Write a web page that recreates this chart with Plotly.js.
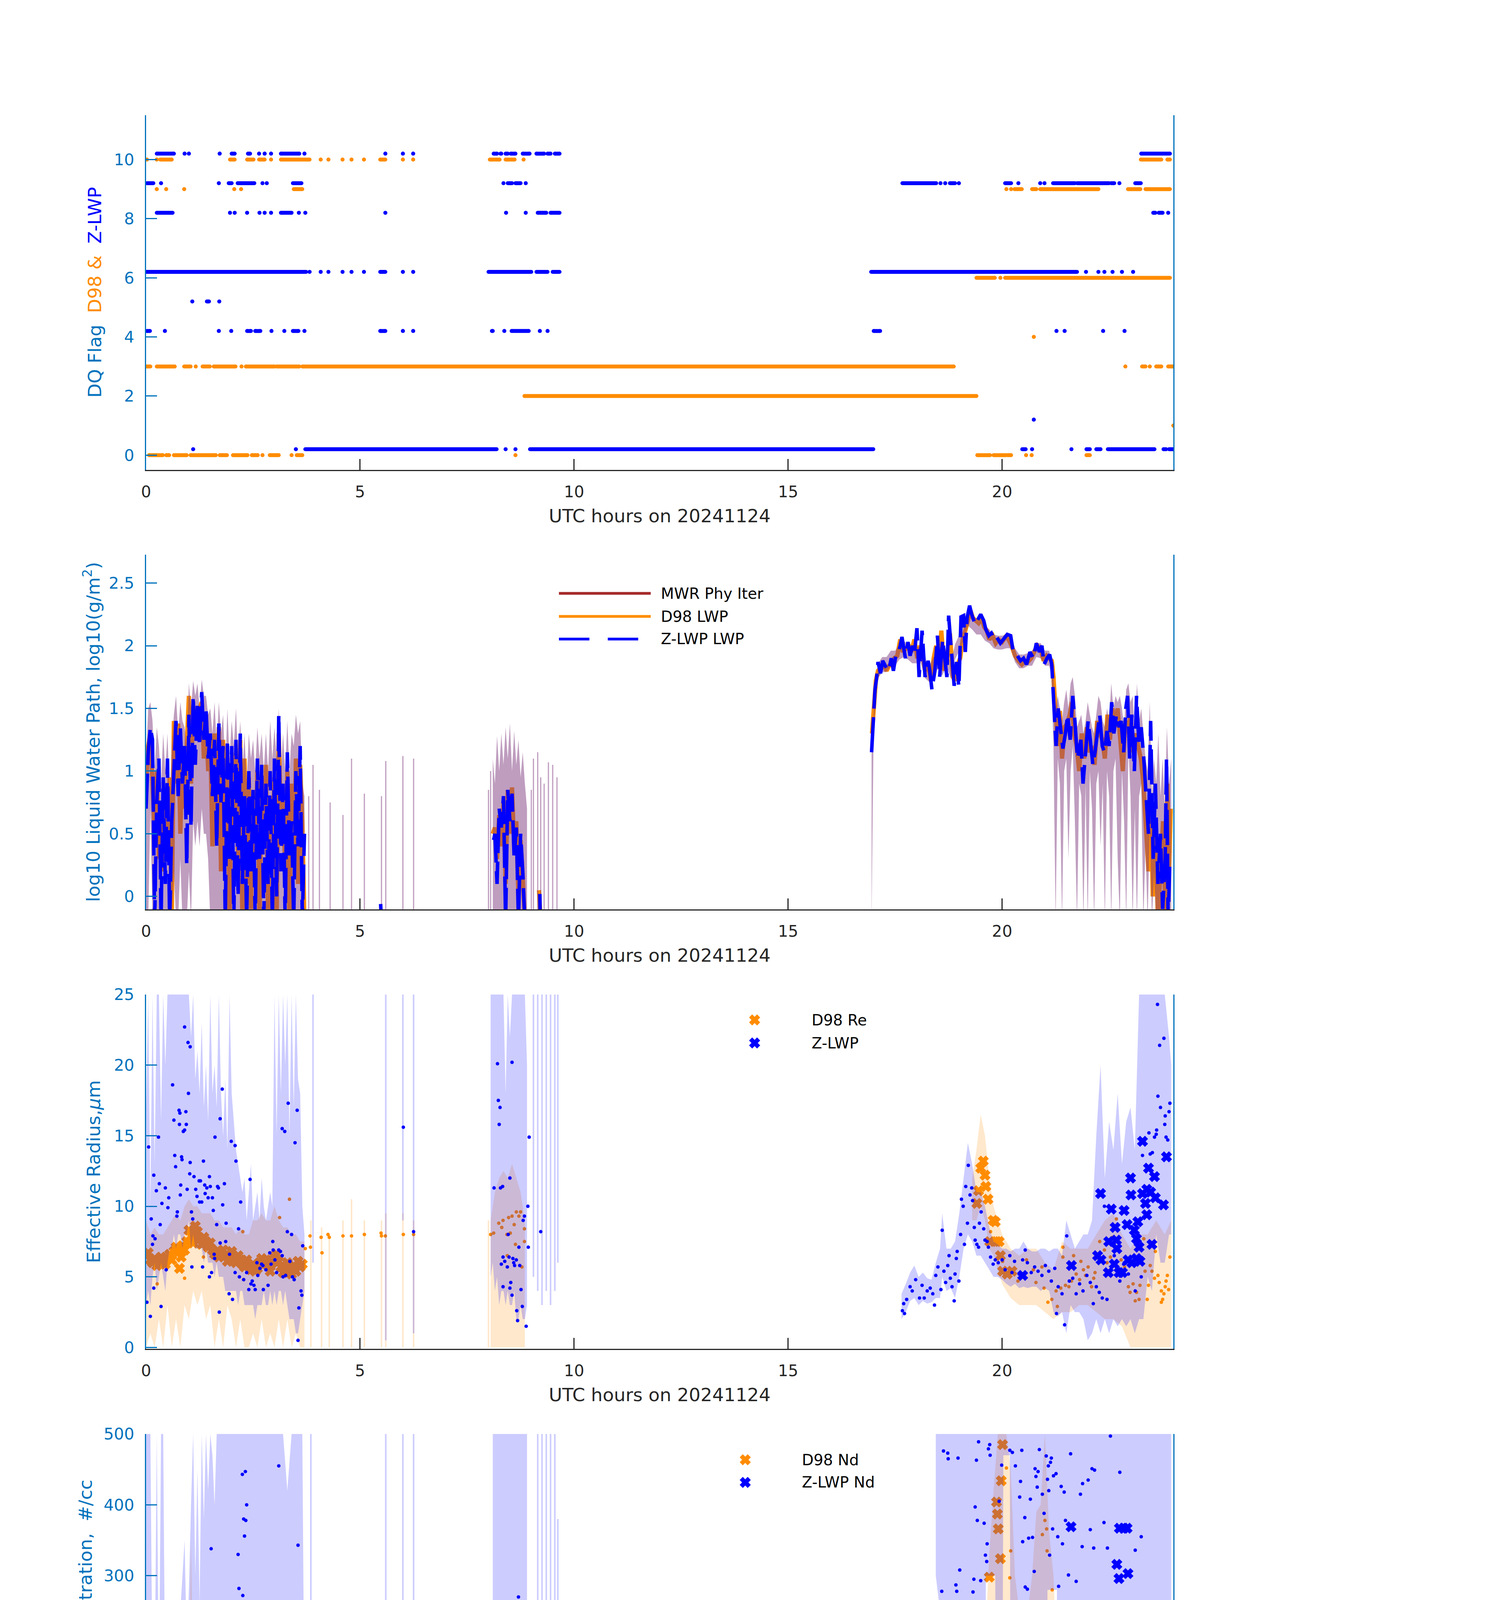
<!DOCTYPE html>
<html>
<head>
<meta charset="utf-8">
<script src="https://cdn.plot.ly/plotly-3.0.1.min.js"></script>
<style>body{margin:0;background:#fff}</style>
</head>
<body>
<div id="chart" style="width:3825px;height:6000px"></div>
<script>
// ---- panel 1: data quality flags, runs as [flag, startHour, endHour]
const zFlagRuns = [
  [10,0.25,0.65],[10,0.9,0.9],[10,1.0,1.0],[10,1.72,1.72],[10,2.0,2.07],[10,2.38,2.43],[10,2.64,2.64],[10,2.77,2.77],[10,2.92,2.92],[10,3.15,3.58],[10,3.7,3.7],[10,5.59,5.59],[10,6.0,6.0],[10,6.24,6.24],[10,8.12,8.2],[10,8.28,8.3],[10,8.4,8.45],[10,8.52,8.63],[10,8.8,8.96],[10,9.12,9.3],[10,9.38,9.45],[10,9.55,9.66],[10,23.25,23.92],
  [9,0.02,0.17],[9,0.35,0.35],[9,1.7,1.7],[9,1.93,2.0],[9,2.14,2.53],[9,2.72,2.72],[9,2.82,2.82],[9,3.43,3.63],[9,8.35,8.35],[9,8.45,8.55],[9,8.63,8.75],[9,8.87,8.87],[9,17.67,18.46],[9,18.56,18.56],[9,18.67,18.67],[9,18.78,18.9],[9,18.99,18.99],[9,20.07,20.21],[9,20.38,20.38],[9,20.89,20.89],[9,20.99,20.99],[9,21.19,21.7],[9,21.75,22.5],[9,22.55,22.62],[9,22.74,22.74],[9,23.11,23.24],
  [8,0.25,0.62],[8,1.96,1.96],[8,2.07,2.07],[8,2.36,2.36],[8,2.65,2.65],[8,2.77,2.77],[8,2.92,2.92],[8,3.15,3.4],[8,3.57,3.57],[8,3.72,3.72],[8,5.59,5.59],[8,8.41,8.41],[8,8.87,8.87],[8,9.15,9.35],[8,9.45,9.66],[8,23.53,23.58],[8,23.66,23.75],[8,23.88,23.88],
  [6,0,3.74],[6,3.82,3.82],[6,4.08,4.08],[6,4.26,4.26],[6,4.59,4.59],[6,4.8,4.8],[6,5.09,5.09],[6,5.47,5.59],[6,6.0,6.0],[6,6.24,6.24],[6,8.0,9.0],[6,9.12,9.38],[6,9.5,9.66],[6,16.94,21.75],[6,21.96,21.96],[6,22.25,22.25],[6,22.39,22.39],[6,22.58,22.58],[6,22.8,22.8],[6,23.06,23.06],
  [5,1.08,1.08],[5,1.42,1.47],[5,1.71,1.71],
  [4,0.02,0.09],[4,0.44,0.44],[4,1.7,1.7],[4,1.99,1.99],[4,2.36,2.45],[4,2.55,2.67],[4,2.93,2.93],[4,3.23,3.23],[4,3.43,3.56],[4,3.7,3.7],[4,5.47,5.59],[4,6.0,6.0],[4,6.24,6.24],[4,8.08,8.1],[4,8.37,8.37],[4,8.54,8.94],[4,9.2,9.2],[4,9.38,9.38],[4,17.0,17.15],[4,21.27,21.27],[4,21.46,21.46],[4,22.36,22.36],[4,22.86,22.86],
  [1,20.74,20.74],
  [0,1.1,1.1],[0,3.5,3.5],[0,3.72,8.19],[0,8.4,8.4],[0,8.63,8.63],[0,8.97,16.99],[0,20.47,20.55],[0,20.7,20.7],[0,21.62,21.62],[0,21.97,22.05],[0,22.2,22.3],[0,22.47,23.56],[0,23.77,23.83],[0,23.9,24.0]
];
const d98FlagRuns = [
  [10,0.02,0.02],[10,0.25,0.25],[10,0.33,0.6],[10,1.96,2.07],[10,2.36,2.51],[10,2.64,2.77],[10,2.92,2.92],[10,3.15,3.82],[10,4.08,4.08],[10,4.26,4.26],[10,4.59,4.59],[10,4.8,4.8],[10,5.09,5.09],[10,5.47,5.59],[10,6.0,6.0],[10,6.24,6.24],[10,8.03,8.26],[10,8.4,8.61],[10,8.82,8.82],[10,23.24,23.72],[10,23.86,23.92],
  [9,0.25,0.25],[9,0.47,0.47],[9,0.89,0.89],[9,2.06,2.06],[9,2.22,2.22],[9,3.45,3.65],[9,20.1,20.1],[9,20.21,20.21],[9,20.29,20.46],[9,20.7,20.8],[9,20.89,22.25],[9,22.94,23.23],[9,23.35,23.92],
  [6,19.4,19.83],[6,19.96,19.96],[6,20.07,23.92],
  [4,20.74,20.74],
  [3,0,0.1],[3,0.25,0.67],[3,0.89,1.04],[3,1.16,1.16],[3,1.32,1.49],[3,1.58,2.09],[3,2.23,2.23],[3,2.33,3.0],[3,3.05,3.58],[3,3.65,18.87],[3,22.88,22.88],[3,23.27,23.35],[3,23.45,23.45],[3,23.6,23.72],[3,23.88,24.0],
  [2,8.84,19.4],
  [1,24.0,24.0],
  [0,0.07,0.39],[0,0.47,0.54],[0,0.65,0.95],[0,1.04,1.63],[0,1.72,1.89],[0,2.03,2.37],[0,2.47,2.61],[0,2.72,2.72],[0,2.89,3.1],[0,3.4,3.4],[0,3.52,3.65],[0,8.63,8.63],[0,19.42,19.72],[0,19.8,20.09],[0,20.13,20.21],[0,20.56,20.56],[0,20.69,20.69],[0,21.97,22.05]
];
const zFlagOffset = 0.2;

// ---- panel 2: log10 LWP, [hour, value], null = gap
const lwpZ = [
  [0.0,0.7],[0.05,1.15],[0.1,1.35],[0.15,1.25],[0.2,-0.2],[0.25,0.75],[0.3,1.1],[0.35,-0.2],[0.4,0.95],[0.45,0.1],[0.5,1.1],[0.55,-0.2],[0.6,0.6],[0.65,1.05],[0.7,1.4],[0.75,0.8],[0.8,1.35],[0.85,0.9],[0.9,1.2],[0.95,0.25],[1.0,1.45],[1.05,0.55],[1.1,1.6],[1.15,1.05],[1.2,1.55],[1.25,1.2],[1.3,1.63],[1.35,1.25],[1.4,1.5],[1.45,1.1],[1.5,1.3],[1.55,0.8],[1.6,1.25],[1.65,0.4],[1.7,1.38],[1.75,0.75],[1.8,1.2],[1.85,-0.2],[1.9,1.25],[1.95,0.3],[2.0,1.2],[2.05,-0.2],[2.1,1.25],[2.15,0.0],[2.2,1.3],[2.25,0.1],[2.3,0.8],[2.35,-0.2],[2.4,1.0],[2.45,0.2],[2.5,0.85],[2.55,-0.2],[2.6,1.1],[2.65,0.3],[2.7,1.05],[2.75,-0.2],[2.8,0.9],[2.85,0.1],[2.9,1.0],[2.95,-0.2],[3.0,1.1],[3.05,0.0],[3.1,1.45],[3.15,0.2],[3.2,0.9],[3.25,-0.2],[3.3,1.15],[3.35,0.3],[3.4,0.6],[3.45,-0.2],[3.5,1.0],[3.55,0.4],[3.6,1.2],[3.65,-0.2],[3.7,0.5],
  null,[5.48,-0.06],[5.5,-0.2],
  null,[8.12,0.45],[8.15,0.5],[8.2,0.1],[8.25,0.7],[8.3,0.55],[8.35,0.8],[8.4,-0.2],[8.45,0.85],[8.5,0.6],[8.55,0.82],[8.6,0.3],[8.65,0.55],[8.7,-0.2],[8.75,0.5],[8.8,0.2],[8.85,-0.2],[8.9,-0.2],
  null,[9.2,0.02],[9.21,-0.2],
  null,[16.95,1.15],[16.99,1.45],[17.03,1.65],[17.07,1.75],[17.1,1.87],[17.16,1.78],[17.21,1.88],[17.3,1.82],[17.35,1.8],[17.41,1.9],[17.46,1.8],[17.52,1.93],[17.6,1.97],[17.66,2.07],[17.74,1.9],[17.8,2.03],[17.85,1.92],[17.91,2.0],[17.95,1.93],[18.01,2.14],[18.06,1.75],[18.13,2.12],[18.2,1.75],[18.27,1.88],[18.31,1.8],[18.36,1.65],[18.43,1.8],[18.49,2.08],[18.54,1.75],[18.61,2.05],[18.67,1.85],[18.71,1.75],[18.75,2.24],[18.82,1.91],[18.88,1.68],[18.93,1.87],[18.99,1.67],[19.04,2.23],[19.1,2.24],[19.14,1.95],[19.18,2.22],[19.24,2.32],[19.29,2.25],[19.37,2.17],[19.43,2.21],[19.5,2.25],[19.57,2.2],[19.62,2.13],[19.69,2.08],[19.75,2.1],[19.82,2.05],[19.87,2.07],[19.96,2.02],[20.04,2.06],[20.12,2.09],[20.2,2.08],[20.26,1.95],[20.34,1.93],[20.43,1.88],[20.5,1.9],[20.57,1.85],[20.65,1.95],[20.73,1.9],[20.8,2.02],[20.87,1.95],[20.93,2.0],[20.98,1.85],[21.05,1.9],[21.11,1.93],[21.16,1.85],[21.2,1.6],[21.26,1.2],[21.31,1.5],[21.37,1.3],[21.42,1.18],[21.48,1.3],[21.53,1.45],[21.59,1.25],[21.65,1.6],[21.7,1.4],[21.76,1.1],[21.84,1.25],[21.89,0.9],[21.95,1.15],[22.01,1.4],[22.06,1.25],[22.12,1.05],[22.17,1.15],[22.23,1.3],[22.28,1.45],[22.34,1.2],[22.39,1.15],[22.45,1.32],[22.5,1.2],[22.56,1.55],[22.61,1.3],[22.67,1.45],[22.73,1.35],[22.78,1.4],[22.84,1.15],[22.89,1.5],[22.93,1.6],[22.98,1.1],[23.03,1.45],[23.09,1.0],[23.14,1.6],[23.2,1.2],[23.25,1.35],[23.31,1.1],[23.36,0.8],[23.42,0.5],[23.47,1.4],[23.53,0.3],[23.58,0.9],[23.64,0.1],[23.7,0.5],[23.75,-0.1],[23.81,0.3],[23.84,1.1],[23.88,-0.2],[23.92,0.3]
];
const lwpD98 = [
  [0.0,0.9],[0.05,1.2],[0.1,1.3],[0.15,0.95],[0.2,0.5],[0.25,1.0],[0.3,0.3],[0.35,0.6],[0.4,0.2],[0.45,0.8],[0.5,0.4],[0.55,0.95],[0.6,-0.2],[0.65,1.4],[0.7,0.9],[0.75,1.38],[0.8,0.5],[0.85,1.1],[0.9,0.7],[0.95,1.2],[1.0,1.6],[1.05,0.9],[1.1,1.52],[1.15,1.3],[1.2,1.3],[1.25,1.5],[1.3,1.55],[1.35,1.1],[1.4,1.45],[1.45,1.0],[1.5,1.25],[1.55,0.4],[1.6,1.3],[1.65,0.7],[1.7,1.35],[1.75,0.2],[1.8,1.25],[1.85,0.4],[1.9,1.1],[1.95,-0.2],[2.0,1.05],[2.05,0.5],[2.1,1.15],[2.15,0.3],[2.2,1.25],[2.25,-0.2],[2.3,1.1],[2.35,0.1],[2.4,0.95],[2.45,-0.1],[2.5,0.75],[2.55,0.3],[2.6,1.0],[2.65,-0.2],[2.7,0.9],[2.75,0.4],[2.8,1.05],[2.85,-0.2],[2.9,0.8],[2.95,0.5],[3.0,0.95],[3.05,-0.2],[3.1,1.3],[3.15,0.6],[3.2,0.85],[3.25,0.2],[3.3,1.0],[3.35,-0.2],[3.4,0.9],[3.45,0.3],[3.5,1.1],[3.55,0.1],[3.6,1.05],[3.65,0.6],[3.7,-0.2],
  null,[8.1,0.5],[8.15,0.55],[8.2,0.3],[8.25,0.65],[8.3,0.4],[8.35,0.75],[8.4,0.1],[8.45,0.85],[8.5,0.5],[8.55,0.87],[8.6,0.4],[8.65,0.6],[8.7,0.0],[8.75,0.45],[8.8,0.15],[8.85,-0.2],
  null,[9.18,0.05],[9.22,-0.2],
  null,[16.96,1.3],[17.0,1.45],[17.05,1.72],[17.1,1.8],[17.16,1.82],[17.22,1.85],[17.3,1.8],[17.36,1.84],[17.42,1.85],[17.48,1.9],[17.55,1.92],[17.62,2.05],[17.68,1.95],[17.75,1.98],[17.82,2.0],[17.88,1.95],[17.95,2.05],[18.02,1.9],[18.08,2.0],[18.14,1.95],[18.2,1.8],[18.27,1.85],[18.34,1.72],[18.4,1.9],[18.46,2.0],[18.52,1.85],[18.58,2.12],[18.65,1.8],[18.71,1.9],[18.78,2.1],[18.85,1.75],[18.9,1.72],[18.96,1.85],[19.02,1.9],[19.08,2.05],[19.14,2.12],[19.2,2.22],[19.26,2.28],[19.32,2.22],[19.38,2.2],[19.45,2.18],[19.52,2.22],[19.58,2.15],[19.64,2.12],[19.7,2.05],[19.78,2.08],[19.85,2.02],[19.92,2.05],[20.0,2.03],[20.08,2.07],[20.15,2.05],[20.22,2.0],[20.3,1.92],[20.38,1.88],[20.46,1.85],[20.54,1.88],[20.6,1.87],[20.68,1.9],[20.75,1.95],[20.82,2.0],[20.9,1.97],[20.97,1.88],[21.04,1.92],[21.1,1.9],[21.16,1.88],[21.2,1.75],[21.25,1.5],[21.3,1.2],[21.35,1.48],[21.4,1.1],[21.46,1.35],[21.52,1.38],[21.58,1.45],[21.63,1.55],[21.68,1.3],[21.74,1.2],[21.8,1.0],[21.86,1.3],[21.92,1.1],[21.98,1.35],[22.04,1.15],[22.1,1.2],[22.16,1.05],[22.22,1.4],[22.28,1.3],[22.34,1.25],[22.4,1.1],[22.46,1.45],[22.52,1.25],[22.58,1.5],[22.64,1.35],[22.7,1.5],[22.76,1.25],[22.82,1.0],[22.88,1.4],[22.94,1.3],[23.0,1.45],[23.06,1.15],[23.12,1.3],[23.18,1.2],[23.24,1.1],[23.3,0.9],[23.36,0.6],[23.42,0.2],[23.48,0.7],[23.52,0.0],[23.58,0.6],[23.64,-0.2],[23.7,0.2],[23.76,0.6],[23.82,-0.2],[23.86,0.9],[23.9,0.2],[23.94,0.7]
];
// MWR uncertainty envelope [hour, low, high]
const lwpMwrBand = [
  [0.0,-0.2,1.1],[0.05,-0.2,1.5],[0.1,0.7,1.55],[0.15,-0.2,1.4],[0.2,-0.2,1.0],[0.25,-0.2,1.35],[0.3,-0.2,1.2],[0.35,-0.2,0.9],[0.4,-0.2,1.3],[0.45,-0.2,1.0],[0.5,-0.2,1.3],[0.55,-0.2,0.8],[0.6,-0.2,1.2],[0.65,0.2,1.45],[0.7,-0.2,1.6],[0.75,-0.2,1.3],[0.8,0.3,1.55],[0.85,-0.2,1.4],[0.9,-0.2,1.35],[0.95,-0.2,1.2],[1.0,0.2,1.7],[1.05,-0.2,1.5],[1.1,0.6,1.72],[1.15,0.4,1.6],[1.2,0.6,1.7],[1.25,0.4,1.5],[1.3,0.7,1.73],[1.35,0.5,1.6],[1.4,0.5,1.6],[1.45,0.3,1.45],[1.5,-0.2,1.5],[1.55,-0.2,1.3],[1.6,-0.2,1.55],[1.65,-0.2,1.2],[1.7,-0.2,1.55],[1.75,-0.2,1.3],[1.8,-0.2,1.45],[1.85,-0.2,1.0],[1.9,-0.2,1.5],[1.95,-0.2,1.1],[2.0,-0.2,1.4],[2.05,-0.2,1.2],[2.1,-0.2,1.5],[2.15,-0.2,1.1],[2.2,-0.2,1.4],[2.25,-0.2,1.0],[2.3,-0.2,1.3],[2.35,-0.2,0.9],[2.4,-0.2,1.3],[2.45,-0.2,1.1],[2.5,-0.2,1.25],[2.55,-0.2,1.0],[2.6,-0.2,1.35],[2.65,-0.2,1.1],[2.7,-0.2,1.3],[2.75,-0.2,1.0],[2.8,-0.2,1.3],[2.85,-0.2,1.0],[2.9,-0.2,1.4],[2.95,-0.2,1.1],[3.0,-0.2,1.35],[3.05,-0.2,1.1],[3.1,-0.2,1.5],[3.15,-0.2,1.0],[3.2,-0.2,1.3],[3.25,-0.2,1.0],[3.3,-0.2,1.4],[3.35,-0.2,1.0],[3.4,-0.2,1.3],[3.45,-0.2,1.2],[3.5,-0.2,1.45],[3.55,-0.2,1.3],[3.6,-0.2,1.4],[3.65,-0.2,0.9],[3.7,-0.2,0.8],
  null,[8.1,-0.2,1.1],[8.15,-0.2,0.9],[8.2,-0.2,1.28],[8.25,-0.2,1.0],[8.3,-0.2,1.3],[8.35,-0.2,1.05],[8.4,-0.2,1.35],[8.45,-0.2,1.1],[8.5,-0.2,1.38],[8.55,-0.2,1.0],[8.6,-0.2,1.32],[8.65,-0.2,1.05],[8.7,-0.2,1.25],[8.75,-0.2,0.95],[8.8,-0.2,1.15],[8.85,-0.2,0.9],[8.9,-0.2,0.7],
  null,[16.95,-0.2,1.2],[17.0,1.38,1.47],[17.1,1.74,1.86],[17.2,1.79,1.91],[17.3,1.79,1.91],[17.4,1.84,1.96],[17.5,1.84,1.96],[17.6,1.89,2.01],[17.7,1.91,2.04],[17.8,1.89,2.01],[17.9,1.86,1.99],[18.0,1.86,1.99],[18.1,1.86,1.99],[18.2,1.74,1.86],[18.3,1.71,1.84],[18.4,1.79,1.91],[18.5,1.81,1.94],[18.6,1.76,1.89],[18.7,1.84,1.96],[18.8,1.74,1.86],[18.9,1.89,2.01],[19.0,1.96,2.09],[19.1,2.04,2.16],[19.2,2.16,2.27],[19.3,2.13,2.25],[19.4,2.09,2.21],[19.5,2.09,2.21],[19.6,2.04,2.16],[19.7,2.02,2.13],[19.8,1.98,2.09],[19.9,1.97,2.08],[20.0,1.97,2.08],[20.1,1.98,2.09],[20.2,1.98,2.09],[20.3,1.87,1.98],[20.4,1.82,1.93],[20.5,1.82,1.93],[20.6,1.84,1.94],[20.7,1.84,1.96],[20.8,1.91,2.02],[20.9,1.9,2.02],[21.0,1.84,1.96],[21.1,1.84,1.96],[21.15,1.77,1.88],
  [21.2,1.2,1.75],[21.25,-0.2,1.5],[21.3,1.1,1.6],[21.35,0.9,1.5],[21.4,-0.2,1.4],[21.45,1.0,1.55],[21.5,1.1,1.65],[21.55,0.3,1.5],[21.6,1.0,1.7],[21.65,1.2,1.75],[21.7,0.6,1.6],[21.75,-0.2,1.35],[21.8,0.9,1.4],[21.85,0.8,1.45],[21.9,-0.2,1.3],[21.95,0.9,1.4],[22.0,-0.2,1.55],[22.05,1.0,1.45],[22.1,0.7,1.35],[22.15,-0.2,1.3],[22.2,0.9,1.45],[22.25,1.0,1.6],[22.3,0.4,1.55],[22.35,0.9,1.4],[22.4,-0.2,1.35],[22.45,1.0,1.5],[22.5,0.8,1.4],[22.55,-0.2,1.7],[22.6,1.0,1.5],[22.65,1.1,1.6],[22.7,0.3,1.55],[22.75,-0.2,1.6],[22.8,1.0,1.5],[22.85,0.6,1.35],[22.9,-0.2,1.65],[22.95,1.2,1.7],[23.0,0.8,1.55],[23.05,-0.2,1.6],[23.1,0.7,1.3],[23.15,-0.2,1.7],[23.2,0.8,1.4],[23.25,0.9,1.5],[23.3,-0.2,1.3],[23.35,0.4,1.1],[23.4,-0.2,1.0],[23.45,0.6,1.55],[23.5,-0.2,0.8],[23.55,0.2,1.1],[23.6,-0.2,0.9],[23.65,-0.2,1.3],[23.7,-0.2,0.8],[23.75,-0.2,1.1],[23.8,-0.2,0.7],[23.85,-0.2,1.35],[23.9,-0.2,0.9],[23.95,-0.2,1.1]
];
const lwpMwrSpikes = [[3.8,-0.2,0.8],[3.9,-0.2,1.05],[4.05,-0.2,0.85],[4.3,-0.2,0.75],[4.6,-0.2,0.65],[4.8,-0.2,1.1],[5.1,-0.2,0.82],[5.5,-0.2,0.8],[5.6,-0.2,1.08],[6.0,-0.2,1.12],[6.25,-0.2,1.1],[8.0,-0.2,0.85],[8.05,-0.2,1.0],[9.0,-0.2,0.85],[9.05,-0.2,1.1],[9.15,-0.2,1.15],[9.22,-0.2,0.95],[9.3,-0.2,0.9],[9.4,-0.2,1.07],[9.5,-0.2,1.05],[9.6,-0.2,0.95]];

// ---- panel 3: effective radius (um)
const reZDots = [
  [0.06,14.2],[0.02,3.2],[0.1,2.2],[0.12,9.1],[0.15,7.3],[0.16,7.9],[0.18,12.2],[0.21,7.7],[0.18,4.2],[0.24,11.1],[0.29,14.9],[0.33,8.7],[0.31,11.6],[0.35,2.9],[0.37,10.2],[0.45,11.3],[0.47,5.5],[0.51,9.9],[0.53,10.6],[0.62,18.6],[0.65,16.1],[0.67,13.6],[0.69,12.8],[0.72,9.3],[0.73,9.6],[0.77,16.8],[0.78,15.8],[0.79,16.6],[0.8,10.8],[0.81,11.5],[0.83,13.5],[0.84,13.3],[0.87,15.3],[0.9,15.4],[0.9,22.7],[0.93,16.7],[0.94,15.8],[0.96,11.2],[0.98,21.6],[0.99,18.0],[1.03,21.3],[1.02,12.3],[1.03,13.1],[1.06,9.6],[1.07,5.7],[1.09,9.1],[1.12,12.1],[1.16,11.2],[1.19,10.7],[1.24,11.8],[1.27,11.8],[1.25,10.3],[1.3,10.3],[1.34,13.2],[1.37,11.5],[1.38,10.9],[1.42,11.3],[1.45,10.6],[1.48,12.1],[1.5,11.4],[1.55,10.6],[1.57,9.7],[1.61,14.9],[1.65,8.7],[1.67,11.4],[1.69,11.3],[1.73,16.2],[1.78,18.3],[1.79,10.1],[1.83,11.6],[1.87,8.8],[1.94,3.8],[1.99,14.6],[2.02,3.4],[2.08,14.3],[2.1,13.2],[2.16,8.4],[2.21,10.3],[2.43,11.9],[2.59,6.0],[2.74,4.1],[2.85,4.4],[2.96,7.5],[3.18,15.5],[3.24,15.3],[3.32,17.3],[3.4,8.0],[3.48,14.5],[3.53,16.8],[3.55,0.5],[3.57,2.8],[3.64,3.7],[3.66,7.2],[3.62,4.0],[3.26,5.1],[3.3,8.2],[3.18,6.5],[3.01,6.2],[2.89,6.7],[2.73,5.8],[2.61,5.1],[2.48,4.7],[2.4,4.1],[2.28,4.8],[2.18,5.0],[2.08,5.3],[1.95,6.6],[1.86,7.5],[1.73,7.4],[1.59,6.6],[1.71,2.5],[1.48,5.0],[1.53,5.3],[1.6,6.3],[1.32,5.7],[2.35,5.3],[2.45,4.5],[2.52,4.4],[2.55,4.1],[2.66,5.6],[2.7,5.9],[2.8,5.5],[2.92,5.9],[2.97,6.9],[3.05,5.3],[3.1,6.9],[3.14,6.8],[3.2,5.0],[3.36,6.1],[3.42,5.0],[3.46,4.8],
  [6.01,15.6],[6.25,8.2],
  [8.21,20.1],[8.55,20.2],[8.23,17.5],[8.27,17.0],[8.25,15.8],[8.13,11.3],[8.28,11.3],[8.33,11.4],[8.5,12.0],[8.46,8.0],[8.3,5.9],[8.34,6.4],[8.38,6.1],[8.34,4.3],[8.44,5.7],[8.48,6.4],[8.52,4.6],[8.5,4.2],[8.55,3.7],[8.57,6.3],[8.59,6.0],[8.61,5.8],[8.65,6.2],[8.66,2.6],[8.68,1.9],[8.71,7.1],[8.73,5.8],[8.76,4.1],[8.79,2.9],[8.81,9.0],[8.84,9.3],[8.88,1.5],[8.92,10.0],[8.93,7.1],[8.95,14.9],[9.22,8.2],
  [17.67,2.6],[17.72,2.4],[17.7,3.1],[17.77,3.4],[17.85,4.3],[17.9,4.0],[17.98,4.8],[18.07,3.5],[18.13,4.4],[18.18,3.5],[18.25,4.0],[18.32,4.2],[18.38,3.8],[18.42,3.0],[18.45,5.1],[18.5,5.7],[18.57,4.1],[18.6,8.3],[18.64,5.4],[18.68,4.6],[18.73,5.8],[18.76,6.5],[18.79,4.9],[18.83,4.3],[18.88,3.3],[18.9,5.2],[18.93,6.3],[18.95,6.8],[18.99,4.7],[19.03,8.0],[19.05,10.5],[19.09,10.0],[19.12,7.3],[19.15,11.4],[19.19,8.8],[19.21,12.9],[19.25,10.8],[19.29,11.3],[19.31,10.4],[19.35,8.5],[19.37,7.6],[19.41,7.3],[19.45,7.1],[19.47,8.8],[19.51,9.6],[19.57,8.4],[19.6,7.6],[19.65,7.5],[19.68,7.1],[19.73,6.4],[19.79,5.9],[19.84,6.2],[19.91,6.0],[20.0,6.2],[20.07,5.5],[20.18,6.5],[20.23,5.3],[20.29,6.1],[20.4,5.2],[20.48,6.2],[20.54,6.9],[20.59,6.0],[20.68,5.3],[20.76,5.7],[20.84,5.4],[20.93,5.1],[21.01,5.8],[21.09,5.4],[21.15,4.7],[21.23,5.6],[21.27,2.4],[21.31,4.3],[21.4,3.8],[21.46,1.6],[21.51,7.9],[21.57,4.7],[21.65,4.9],[21.73,3.8],[21.81,4.5],[21.89,4.0],[21.98,5.1],[22.06,4.6],[22.13,3.1],[22.2,4.3],[22.27,3.9],[22.34,3.5],[22.39,10.0],[22.45,3.4],[22.53,5.1],[22.62,6.5],[22.7,5.7],[22.75,4.7],[22.84,5.9],[22.95,5.2],[23.11,4.0],[23.25,5.0],[23.28,13.6],[23.43,15.2],[23.46,13.7],[23.51,13.8],[23.56,14.9],[23.6,15.1],[23.61,15.4],[23.64,17.8],[23.68,21.4],[23.7,17.0],[23.78,21.9],[23.8,15.8],[23.81,16.4],[23.83,14.9],[23.87,14.7],[23.9,16.7],[23.92,17.3],[23.63,24.3]
];
const reZCross = [[22.3,10.9],[22.55,9.8],[22.64,8.5],[22.85,9.7],[22.92,8.7],[23.0,12.0],[23.01,10.8],[23.17,8.9],[23.09,8.3],[23.14,7.7],[23.2,7.1],[23.28,14.6],[23.42,12.7],[23.56,12.1],[23.28,10.9],[23.38,11.2],[23.47,11.0],[23.58,10.6],[23.35,10.2],[23.38,9.4],[23.77,10.1],[23.84,13.5],[23.5,7.3],[22.49,7.5],[22.67,7.6],[22.68,7.0],[22.23,6.5],[22.31,6.2],[21.62,5.8],[22.48,5.3],[22.62,5.9],[22.73,5.3],[22.81,5.3],[22.94,6.2],[23.03,6.0],[23.14,6.3],[23.22,6.1],[20.48,5.1]];
const reD98Cross = [
  [0.05,6.7],[0.1,6.2],[0.15,6.0],[0.2,6.3],[0.25,5.8],[0.3,6.1],[0.35,6.4],[0.4,6.0],[0.45,5.9],[0.5,6.3],[0.55,6.6],[0.6,6.2],[0.65,6.8],[0.7,7.1],[0.75,6.9],[0.78,5.6],[0.82,6.4],[0.85,7.2],[0.9,6.9],[0.95,7.5],[1.0,8.3],[1.05,7.9],[1.1,7.4],[1.15,8.6],[1.2,8.2],[1.25,7.7],[1.3,7.3],[1.35,7.8],[1.4,7.5],[1.45,7.1],[1.5,7.4],[1.55,6.9],[1.6,6.6],[1.65,6.8],[1.7,6.4],[1.75,6.6],[1.8,6.9],[1.85,6.5],[1.9,6.1],[1.95,6.4],[2.0,6.8],[2.05,6.3],[2.1,6.0],[2.15,6.5],[2.2,6.2],[2.25,5.9],[2.3,5.7],[2.35,6.2],[2.4,5.8],[2.45,5.5],[2.5,5.9],[2.55,5.4],[2.6,5.6],[2.65,6.0],[2.7,6.3],[2.75,5.9],[2.8,6.2],[2.85,5.8],[2.9,5.4],[2.95,6.0],[3.0,6.3],[3.05,6.6],[3.1,6.1],[3.15,5.7],[3.2,5.3],[3.25,5.6],[3.3,6.0],[3.35,5.5],[3.4,5.2],[3.45,5.8],[3.5,5.4],[3.55,6.1],[3.6,5.7],[3.65,5.9],
  [19.56,13.2],[19.5,12.7],[19.6,12.2],[19.62,11.4],[19.45,11.1],[19.67,10.5],[19.41,10.2],[19.79,9.0],[19.84,8.9],[19.87,7.5],[19.71,7.5],[19.93,7.5],[19.96,6.5],[20.01,5.4],[20.12,5.2],[20.23,5.4]
];
const reD98Dots = [
  [0.26,4.5],[0.9,4.9],[1.34,6.4],[2.26,8.2],[3.12,9.2],[3.35,10.5],[2.28,4.8],
  [3.72,7.0],[3.83,7.9],[3.84,7.1],[4.09,7.8],[4.11,6.7],[4.25,8.0],[4.28,7.8],[4.6,7.9],[4.8,7.9],[5.1,8.0],[5.49,8.1],[5.5,7.9],[5.59,7.9],[6.01,8.0],[6.25,8.0],
  [8.05,8.0],[8.12,8.1],[8.24,8.8],[8.31,8.5],[8.34,9.0],[8.47,9.2],[8.55,9.3],[8.65,9.6],[8.75,9.6],[8.71,9.3],[8.6,8.7],[8.51,8.1],[8.43,8.0],[8.84,8.4],[8.78,5.7],[8.84,7.5],[8.63,7.3],[8.44,6.5],
  [19.73,8.2],[20.01,6.1],[20.37,4.7],[20.57,6.2],[20.73,5.5],[20.79,4.6],[20.93,5.7],[20.98,4.2],[21.07,3.2],[21.16,3.4],[21.26,4.0],[21.29,2.9],[21.37,4.2],[21.42,7.1],[21.42,6.4],[21.48,4.4],[21.56,4.3],[21.62,4.7],[21.67,6.5],[21.73,5.2],[21.81,4.8],[21.84,6.1],[21.9,5.5],[21.95,5.1],[22.01,5.7],[22.09,4.3],[22.14,4.9],[22.17,5.3],[22.28,7.5],[22.33,6.1],[22.39,6.9],[22.45,6.0],[22.53,6.4],[22.58,7.8],[22.67,9.1],[22.7,5.6],[22.78,6.2],[22.86,5.7],[22.95,4.3],[22.99,3.9],[23.06,4.5],[23.11,3.3],[23.14,3.9],[23.2,3.4],[23.22,4.4],[23.31,7.7],[23.34,5.4],[23.39,3.4],[23.42,4.4],[23.46,5.8],[23.5,5.4],[23.56,4.9],[23.58,6.8],[23.64,5.1],[23.67,4.6],[23.72,4.0],[23.75,3.4],[23.78,3.8],[23.81,4.3],[23.83,4.7],[23.86,5.1],[23.89,4.1],[23.92,6.4],[23.72,3.2]
];
const reZBand = [
  [0.0,3,17],[0.05,4,25],[0.1,3,10],[0.15,5,25],[0.2,6,13],[0.25,4,25],[0.3,5,25],[0.35,6,16],[0.4,5,25],[0.45,4,20],[0.5,6,25],[0.55,7,25],[0.6,7,25],[0.65,8,25],[0.7,7,25],[0.75,8,25],[0.8,8,25],[0.85,7,25],[0.9,8,25],[0.95,8,25],[1.0,9,25],[1.05,7,22],[1.1,8,25],[1.15,7,19],[1.2,7,21],[1.25,7,18],[1.3,7,23],[1.35,6,17],[1.4,7,20],[1.45,6,16],[1.5,6,25],[1.55,6,18],[1.6,5,20],[1.65,6,17],[1.7,5,25],[1.75,5,18],[1.8,5,15],[1.85,4,19],[1.9,4,14],[1.95,4,25],[2.0,4,18],[2.05,4,16],[2.1,4,14],[2.15,3,13],[2.2,4,12],[2.25,4,11],[2.3,3,12],[2.35,3,9],[2.4,3,11],[2.45,3,13],[2.5,3,9],[2.55,2,10],[2.6,3,11],[2.65,3,9],[2.7,3,12],[2.75,4,10],[2.8,3,9],[2.85,3,10],[2.9,4,11],[2.95,3,10],[3.0,4,25],[3.05,3,15],[3.1,4,25],[3.15,4,18],[3.2,3,25],[3.25,4,20],[3.3,3,25],[3.35,2,15],[3.4,2,25],[3.45,2,17],[3.5,1,25],[3.55,1,19],[3.6,2,18],[3.65,3,10],[3.7,4,8],
  null,[8.05,5,25],[8.1,6,25],[8.15,4,25],[8.2,5,25],[8.25,3,25],[8.3,4,25],[8.35,4,25],[8.4,3,18],[8.45,4,25],[8.5,3,22],[8.55,3,25],[8.6,4,25],[8.65,2,25],[8.7,2,25],[8.75,3,25],[8.8,2,25],[8.85,2,25],[8.9,3,20],
  null,[17.65,2,3.8],[17.75,2.5,4.5],[17.85,3.3,5.3],[17.95,3.5,5.8],[18.05,3,5],[18.15,3.3,5.3],[18.25,3.1,4.9],[18.35,3.2,4.8],[18.45,3.5,6],[18.55,3.5,7],[18.6,5,9.5],[18.7,4,7],[18.8,4.2,7],[18.9,3.5,7.5],[19.0,5,9.5],[19.1,7,12],[19.2,8,14.5],[19.3,7.5,13],[19.4,6.5,11],[19.5,6.5,11],[19.6,6,10],[19.7,5.5,8.5],[19.8,5,7.5],[19.9,5,7.3],[20.0,4.8,7],[20.1,4.5,7],[20.2,4.3,6.8],[20.3,4.5,7],[20.4,4.2,7],[20.5,4.3,7.5],[20.6,4.2,7],[20.7,4.3,6.8],[20.8,4.3,6.8],[20.9,4,7],[21.0,4.2,7],[21.1,4,6.8],[21.2,2.5,7],[21.3,2.2,7],[21.4,2.5,6.5],[21.5,1,9],[21.6,3,8],[21.7,2.5,7],[21.8,2.5,7.5],[21.9,2,8],[22.0,0.5,8],[22.1,1,9],[22.2,2,15],[22.3,1,20],[22.4,2,12],[22.5,1,16],[22.6,2,14],[22.7,1.5,18],[22.8,2,13],[22.9,1.5,16],[23.0,2,17],[23.1,1,14],[23.2,2,25],[23.3,2,25],[23.4,5,25],[23.5,4,25],[23.6,8,25],[23.7,6,25],[23.8,6,25],[23.9,8,22],[23.95,8,20]
];
const reZSpikes = [[3.9,6,25],[5.6,0.5,25],[6.0,9,25],[6.25,1,25],[9.05,5,25],[9.15,4,25],[9.25,3,25],[9.35,4,25],[9.45,3,25],[9.55,4,25],[9.62,6,25]];
const reD98Band = [
  [0.0,0,9],[0.1,1,8],[0.2,0,8.5],[0.3,2,8],[0.4,0,8],[0.5,3,8.5],[0.6,0,9],[0.7,2,9.5],[0.8,0,9],[0.9,3,10],[1.0,2,10.5],[1.1,4,10],[1.2,3,10],[1.3,4,9.5],[1.4,2,9.5],[1.5,3,9.5],[1.6,0,9],[1.7,2,9],[1.8,0,8.5],[1.9,3,8.5],[2.0,2,8.5],[2.1,0,8],[2.2,2,8.5],[2.3,0,8],[2.4,0,8],[2.5,1,9],[2.6,0,9],[2.7,2,9.5],[2.8,0,9],[2.9,1,9],[3.0,0,10],[3.1,2,9],[3.2,0,8.5],[3.3,2,8.5],[3.4,0,8],[3.5,1,8],[3.6,0,7.5],[3.7,0,7.5],
  null,[8.05,0,9],[8.15,0,11],[8.25,0,12],[8.35,0,12.5],[8.45,0,12],[8.55,0,13],[8.65,0,12],[8.75,0,11],[8.85,0,9],
  null,[19.3,9,12],[19.4,9,14],[19.5,10,16.5],[19.6,9,15],[19.7,7,12],[19.8,6.5,10],[19.9,5.5,9],[20.0,4.5,8],[20.2,3.5,7],[20.4,3,6.5],[20.6,3,7],[20.8,3,7],[21.0,2.5,6],[21.2,2,5.5],[21.4,2.5,7.5],[21.6,2.5,7],[21.8,3,7],[22.0,3,7],[22.2,2.5,8],[22.4,2,9],[22.6,2,9.5],[22.8,1.5,8],[23.0,0,7],[23.2,0,8],[23.4,0,8],[23.6,0,9],[23.8,0,8],[23.95,0,9]
];
const reD98Spikes = [[3.85,0,9],[4.1,0,8.5],[4.28,0,8],[4.6,0,9],[4.8,0,10.5],[5.1,0,9],[5.5,0,9],[5.6,0,9.5],[6.0,0,9.5],[6.25,0,9],[8.0,0,9]];

// ---- panel 4: droplet concentration (#/cc)
const ndZDots = [
  [0.0,245],[0.05,2],[0.1,113],[0.12,124],[0.14,105],[0.2,45],[0.22,12],[0.25,78],[0.28,5],[0.3,0],[0.33,40],[0.35,10],[0.35,228],[0.37,28],[0.45,0],[0.47,80],[0.5,25],[0.52,22],[0.55,0],[0.6,0],[0.65,5],[0.68,15],[0.7,65],[0.72,30],[0.75,5],[0.78,0],[0.8,48],[0.82,12],[0.85,10],[0.87,121],[0.9,5],[0.93,32],[0.96,0],[1.0,18],[1.05,167],[1.07,72],[1.1,38],[1.13,42],[1.17,13],[1.19,205],[1.2,40],[1.25,28],[1.3,55],[1.32,191],[1.35,18],[1.4,40],[1.45,28],[1.48,15],[1.5,28],[1.52,338],[1.55,65],[1.58,125],[1.6,18],[1.65,8],[1.68,118],[1.7,14],[1.72,50],[1.74,112],[1.78,35],[1.8,0],[1.82,29],[1.85,90],[1.87,260],[1.9,55],[1.93,102],[1.95,23],[1.98,0],[2.02,242],[2.03,232],[2.05,202],[2.08,4],[2.1,204],[2.12,0],[2.15,330],[2.17,282],[2.2,52],[2.25,443],[2.26,272],[2.28,380],[2.3,356],[2.32,447],[2.33,378],[2.35,400],[2.37,0],[2.4,172],[2.45,244],[2.48,240],[2.5,222],[2.55,132],[2.6,243],[2.62,105],[2.65,0],[2.7,26],[2.72,125],[2.75,238],[2.77,112],[2.8,180],[2.82,112],[2.85,148],[2.87,150],[2.88,117],[2.9,126],[2.92,130],[2.95,10],[2.98,140],[3.0,157],[3.02,80],[3.05,70],[3.08,45],[3.1,455],[3.12,0],[3.15,18],[3.2,70],[3.25,0],[3.3,175],[3.32,160],[3.34,105],[3.38,45],[3.4,48],[3.45,2],[3.5,0],[3.55,343],[3.58,78],
  [5.6,0],[6.0,0],[6.25,0],
  [8.12,0],[8.2,0],[8.27,28],[8.28,12],[8.3,117],[8.33,43],[8.36,45],[8.4,20],[8.42,196],[8.45,120],[8.47,237],[8.5,46],[8.52,5],[8.55,8],[8.6,47],[8.62,48],[8.65,90],[8.67,84],[8.7,270],[8.72,242],[8.75,10],[8.8,0],[8.85,3],[9.0,0],[9.2,0],[9.3,0],[9.4,0],[9.6,0],
  [18.59,278],[18.6,222],[18.63,476],[18.73,473],[18.74,465],[18.97,466],[18.92,287],[18.94,278],[19.01,308],[19.01,194],[19.08,194],[19.09,179],[19.06,162],[19.04,124],[19.12,260],[19.15,238],[19.18,177],[19.2,263],[19.16,104],[19.21,89],[19.22,120],[19.24,160],[19.25,197],[19.28,177],[19.31,189],[19.32,277],[19.34,295],[19.37,397],[19.39,257],[19.4,463],[19.42,378],[19.45,489],[19.5,293],[19.51,244],[19.54,257],[19.58,374],[19.61,329],[19.64,320],[19.65,345],[19.68,479],[19.71,485],[19.72,470],[19.93,405],[19.99,456],[20.18,477],[20.24,474],[20.31,455],[20.41,411],[20.43,433],[20.46,477],[20.48,348],[20.53,382],[20.54,284],[20.59,281],[20.62,353],[20.66,408],[20.71,354],[20.75,306],[20.77,451],[20.79,440],[20.82,425],[20.84,447],[20.87,478],[20.94,415],[20.98,388],[21.03,469],[21.06,436],[21.08,455],[21.09,420],[21.11,329],[21.13,460],[21.15,466],[21.18,366],[21.2,441],[21.23,242],[21.25,217],[21.26,444],[21.3,355],[21.32,285],[21.34,232],[21.38,426],[21.41,345],[21.45,418],[21.48,378],[21.51,77],[21.55,301],[21.57,157],[21.6,472],[21.65,255],[21.73,292],[21.83,415],[21.87,341],[21.88,430],[21.96,238],[22.01,435],[22.06,365],[22.1,451],[22.14,339],[22.16,449],[22.26,252],[22.28,131],[22.38,375],[22.46,339],[22.53,497],[22.75,446],[22.8,222],[22.83,65],[23.11,336],[23.21,185],[23.25,355],[23.47,15],[23.56,4],[23.67,2],[23.78,4],[23.86,2],[23.92,4],[21.52,149],[21.49,77]
];
const ndZCross = [[21.61,369],[21.63,179],[22.24,142],[22.29,198],[22.39,198],[22.48,198],[22.61,192],[22.56,238],[22.66,215],[22.68,316],[22.73,296],[22.77,177],[22.74,367],[22.84,367],[22.92,367],[22.94,303],[22.96,140],[23.19,219],[23.22,134],[22.49,103],[22.67,103],[22.74,101],[22.88,102],[23.17,106],[23.14,93],[22.64,61],[22.29,52],[22.55,44],[22.84,41],[22.95,37],[23.09,75],[23.09,63],[23.2,63],[23.5,51],[22.89,30],[23.0,36],[23.05,22],[23.28,37],[23.31,20],[23.42,18],[23.5,15],[23.58,15],[23.83,15],[23.72,8]];
const ndD98Cross = [
  [0.05,90],[0.1,110],[0.12,82],[0.15,55],[0.2,60],[0.25,78],[0.3,52],[0.38,75],[0.45,52],[0.5,48],[0.6,65],[0.65,70],[0.7,75],[0.75,35],[0.8,55],[0.85,107],[0.9,40],[0.95,28],[1.0,48],[1.05,85],[1.1,70],[1.15,88],[1.2,75],[1.25,92],[1.3,50],[1.35,60],[1.4,40],[1.45,90],[1.5,60],[1.55,52],[1.6,62],[1.7,65],[1.75,90],[1.8,62],[1.85,88],[1.9,55],[2.0,108],[2.05,65],[2.08,80],[2.12,100],[2.18,120],[2.22,130],[2.25,145],[2.3,85],[2.35,75],[2.4,55],[2.45,70],[2.55,60],[2.6,75],[2.65,65],[2.75,80],[2.8,108],[2.85,55],[2.9,45],[2.95,80],[3.0,62],[3.05,58],[3.15,80],[3.3,70],[3.4,115],[3.45,130],[3.5,95],[3.55,120],[3.6,92],[3.45,118],
  [20.01,485],[19.98,434],[19.87,404],[19.89,387],[19.91,366],[19.96,324],[19.7,298],[19.86,258],[19.91,254],[19.82,168],[19.84,157],[19.67,145],[19.45,140],[19.47,108],[19.57,108],[19.67,110],[19.45,94],[19.57,93],[19.51,78],[19.62,78],[19.46,72],[19.52,66],[19.55,53]
];
const ndD98Dots = [
  [0.02,20],[0.05,35],[0.3,45],[0.42,30],[0.62,8],[0.68,20],[0.95,5],[1.05,15],[1.25,10],[1.5,5],[1.75,15],[1.9,25],[2.05,27],[2.2,28],[2.3,20],[2.4,8],[2.5,40],[2.6,5],[2.8,25],[2.9,3],[3.0,35],[3.1,10],[3.2,20],[3.35,15],[3.6,30],
  [3.72,0],[3.85,0],[4.1,0],[4.28,0],[4.6,1],[4.8,0],[5.1,3],[5.48,2],[5.55,0],
  [8.05,0],[8.15,0],[8.3,10],[8.4,12],[8.45,18],[8.5,8],[8.55,25],[8.6,15],[8.65,8],[8.7,15],[8.75,28],[8.8,10],[8.85,2],
  [20.1,452],[20.2,335],[20.18,297],[20.09,245],[20.16,212],[20.15,179],[19.96,175],[19.72,97],[19.75,64],[19.77,53],[19.72,32],[20.22,140],[20.32,134],[20.37,169],[20.39,144],[20.43,121],[20.36,131],[20.28,103],[20.26,82],[20.47,96],[20.49,77],[20.52,59],[20.61,91],[20.65,76],[20.66,59],[20.71,98],[20.8,70],[20.76,191],[20.77,219],[20.9,225],[20.83,121],[20.89,115],[20.93,112],[20.84,149],[20.91,154],[20.98,160],[20.95,246],[21.0,378],[21.04,366],[21.05,335],[20.94,358],[21.15,211],[21.22,205],[21.2,239],[21.17,280],[21.16,126],[21.19,96],[21.26,94],[21.27,159],[21.3,134],[21.25,38],[21.31,32],[21.39,46],[21.41,20],[21.45,13],[21.51,40],[21.56,51],[21.58,43],[21.62,24],[21.66,41],[21.7,51],[21.74,48],[21.78,32],[21.83,40],[21.87,71],[21.91,17],[21.95,27],[22.0,36],[22.05,51],[22.09,20],[22.14,32],[22.2,29],[22.25,22],[22.32,17],[22.39,12],[22.45,14],[22.52,15],[22.61,8],[22.7,9],[22.77,19],[22.86,13],[22.95,27],[23.05,36],[23.14,32],[23.22,32],[23.34,22],[23.45,25],[23.56,15],[23.67,9],[23.83,37],[23.83,29],[23.77,5]
];
const ndZBand = [
  [0.0,0,500],[0.05,0,500],[0.1,0,500],[0.15,0,150],[0.2,0,140],[0.25,0,500],[0.3,0,120],[0.35,0,500],[0.4,0,500],[0.45,0,100],[0.5,0,170],[0.55,0,100],[0.6,0,120],[0.65,0,150],[0.7,0,200],[0.75,0,130],[0.8,0,250],[0.85,0,300],[0.9,0,350],[0.95,0,200],[1.0,0,280],[1.05,0,400],[1.1,0,500],[1.15,0,300],[1.2,0,450],[1.25,0,260],[1.3,0,500],[1.35,0,380],[1.4,0,500],[1.45,0,420],[1.5,0,500],[1.55,0,470],[1.6,0,400],[1.65,0,500],[1.7,0,500],[1.8,0,500],[1.9,0,500],[2.0,0,500],[2.2,0,500],[2.4,0,500],[2.6,0,500],[2.8,0,500],[3.0,0,500],[3.2,0,500],[3.3,0,420],[3.4,0,500],[3.5,0,500],[3.6,0,500],[3.65,0,500],[3.7,0,100],
  null,[8.1,0,500],[8.3,0,500],[8.5,0,500],[8.7,0,500],[8.9,0,500],
  null,[18.45,300,500],[18.55,250,500],[18.6,150,500],[18.7,170,500],[18.8,150,500],[18.9,100,500],[19.0,60,500],[19.1,40,500],[19.2,30,500],[19.3,0,500],[19.6,0,500],[19.62,300,500],[19.84,300,500],[19.86,0,500],[20.0,0,500],[20.03,470,500],[20.18,470,500],[20.2,0,500],[20.48,0,500],[20.5,230,500],[20.72,230,500],[20.74,0,500],[21.04,0,500],[21.06,280,500],[21.28,280,500],[21.3,0,500],[22.0,0,500],[23.0,0,500],[23.95,0,500]
];
const ndZSpikes = [[3.85,0,500],[5.6,0,500],[6.0,0,500],[6.25,0,500],[9.15,0,500],[9.25,0,500],[9.35,0,500],[9.45,0,500],[9.55,0,500],[9.62,0,380]];
const ndD98Band = [
  [0.0,0,150],[0.2,0,130],[0.4,0,110],[0.6,0,120],[0.8,0,140],[1.0,0,160],[1.05,0,350],[1.1,0,150],[1.3,0,140],[1.5,0,130],[1.7,0,150],[1.9,0,170],[2.1,0,190],[2.25,0,220],[2.4,0,160],[2.6,0,140],[2.8,0,150],[3.0,0,130],[3.2,0,140],[3.4,0,180],[3.5,0,210],[3.6,0,170],[3.7,0,60],
  null,[8.05,0,30],[8.3,0,45],[8.5,0,55],[8.7,0,60],[8.85,0,30],
  null,[19.4,30,200],[19.5,30,220],[19.6,30,200],[19.7,30,330],[19.8,60,420],[19.9,100,500],[20.0,150,500],[20.1,180,500],[20.2,120,450],[20.3,60,300],[20.4,50,250],[20.5,50,230],[20.6,40,250],[20.7,50,300],[20.8,70,390],[20.9,80,400],[21.0,100,500],[21.1,80,360],[21.2,40,300],[21.3,20,150],[21.4,5,80],[21.6,0,70],[21.8,0,60],[22.0,0,60],[22.2,0,50],[22.4,0,40],[22.6,0,35],[22.8,0,40],[23.0,0,45],[23.2,0,40],[23.4,0,35],[23.6,0,30],[23.8,0,60],[23.95,0,50]
];

// ---- panel 5: optical depth
const odZDots = [
  [0.04,1],[0.08,10],[0.12,3.5],[0.15,4.5],[0.18,7],[0.2,2.5],[0.25,1.5],[0.28,0],[0.3,1],[0.33,2.8],[0.35,1.7],[0.4,0],[0.45,0],[0.5,1.7],[0.55,0],[0.6,0],[0.65,1],[0.7,4],[0.75,3.5],[0.78,1],[0.8,3.8],[0.85,2.4],[0.87,6],[0.9,1.5],[0.93,0.3],[0.95,2.5],[1.0,0.5],[1.03,4.5],[1.05,8.3],[1.1,4.6],[1.12,1.5],[1.15,3.3],[1.2,5.5],[1.25,6.2],[1.28,4.5],[1.3,2.5],[1.4,10.3],[1.45,2.5],[1.5,8.5],[1.55,3.1],[1.6,4.5],[1.65,1.7],[1.7,6],[1.75,0.3],[1.8,3.1],[1.85,2.3],[1.9,5.8],[1.95,4.5],[2.0,4.2],[2.05,3.5],[2.1,1.5],[2.15,5.0],[2.2,5.2],[2.25,5.5],[2.3,6.8],[2.35,0.3],[2.4,2.7],[2.45,0],[2.5,3.5],[2.55,1],[2.6,3.8],[2.65,0.6],[2.7,2.7],[2.75,3.5],[2.8,1.5],[2.85,2.5],[2.9,0.5],[2.95,3.2],[3.0,1.7],[3.05,8.4],[3.1,0],[3.15,0.7],[3.2,0.3],[3.3,3.8],[3.35,2.7],[3.45,0],[3.5,27.6],[3.55,3.5],[3.6,4.7],[3.62,6.9],[3.65,2.6],[3.75,0],
  [5.6,0],[6.0,0],[6.25,0],
  [8.1,0],[8.2,0.3],[8.25,1],[8.3,1.5],[8.35,2],[8.38,0.5],[8.42,1.2],[8.45,3.0],[8.5,1.5],[8.55,4.2],[8.58,4.5],[8.6,1.8],[8.62,0.5],[8.67,1.3],[8.72,0.5],[8.75,2.0],[8.8,0.3],[9.2,0.2],[9.35,0],[9.55,0],[9.65,0],
  [17.67,71.4],[17.72,65.6],[17.71,53.8],[17.69,49.3],[17.76,49.4],[17.74,38.3],[17.77,44.8],[17.79,35.3],[17.81,41.0],[17.82,39.5],[17.84,37.5],[17.86,32.1],[17.87,34.9],[17.89,38.6],[17.91,42.3],[17.93,35.3],[17.94,31.8],[17.96,28.7],[17.98,30.9],[18.0,40.4],[18.02,45.5],[18.04,43.9],[18.05,37.7],[18.07,24.4],[18.09,18.3],[18.11,35.1],[18.13,45.4],[18.14,52.5],[18.17,48.2],[18.19,41.7],[18.24,42.2],[18.2,23.8],[18.22,28.2],[18.26,34.6],[18.27,32.8],[18.29,32.1],[18.31,23.8],[18.33,21.9],[18.35,22.5],[18.38,19.5],[18.39,21.6],[18.41,26.9],[18.42,25.9],[18.44,14.0],[18.46,22.6],[18.48,29.0],[18.5,28.7],[18.52,28.0],[18.54,24.2],[18.56,26.1],[18.57,18.7],[18.59,15.2],[18.61,17.8],[18.63,26.2],[18.65,25.6],[18.67,27.7],[18.68,19.1],[18.7,20.3],[18.72,20.5],[18.74,29.0],[18.76,47.4],[18.77,41.6],[18.79,36.8],[18.81,27.4],[18.83,30.0],[18.84,34.8],[18.86,26.7],[18.89,17.7],[18.91,19.5],[18.93,17.1],[18.95,15.1],[18.98,14.1],[18.96,21.2],[19.0,16.2],[19.02,16.1],[19.04,18.5],[19.06,25.4],[19.07,26.6],[19.09,27.3],[19.12,18.8],[19.14,19.4],[19.16,17.2],[19.17,24.8],[19.19,27.4],[19.21,20.5],[19.24,24.8],[19.25,29.4],[19.28,24.4],[19.3,26.1],[19.32,29.3],[19.35,29.4],[19.36,27.8],[19.39,27.8],[19.4,33.6],[19.42,30.8],[19.45,34.4],[19.47,34.6],[19.49,28.1],[19.51,27.4],[19.53,26.6],[19.56,26.1],[19.58,25.0],[19.6,28.2],[19.62,29.4],[19.65,26.9],[19.67,24.5],[19.69,27.7],[19.71,27.4],[19.73,29.3],[19.76,31.7],[19.78,25.8],[19.81,28.8],[19.83,29.3],[19.86,28.5],[19.89,26.4],[19.91,26.1],[19.93,27.1],[19.96,24.6],[19.98,26.0],[20.0,26.6],[20.01,29.8],[20.04,31.5],[20.06,35.1],[20.08,36.5],[20.1,36.5],[20.12,32.7],[20.15,39.1],[20.16,40.7],[20.19,29.4],[20.22,29.5],[20.24,22.8],[20.28,22.5],[20.3,23.9],[20.32,20.8],[20.34,25.7],[20.37,25.8],[20.4,23.2],[20.43,22.0],[20.45,19.5],[20.48,19.1],[20.51,21.6],[20.54,20.3],[20.57,18.5],[20.6,17.8],[20.62,20.0],[20.65,21.1],[20.68,24.8],[20.7,28.5],[20.73,20.6],[20.76,25.3],[20.78,29.8],[20.8,22.8],[20.82,26.3],[20.84,29.0],[20.87,25.7],[20.9,23.5],[20.92,30.4],[20.94,18.6],[20.96,27.9],[20.99,24.1],[21.01,25.1],[21.04,28.1],[21.06,21.0],[21.09,19.3],[21.11,18.8],[21.14,22.5],[21.16,14.5],[21.19,17.7],[21.21,19.2],[21.24,10.9],[21.26,7.1],[21.29,10.4],[21.31,13.4],[21.34,8.7],[21.37,9.0],[21.4,9.8],[21.42,12.9],[21.46,15.7],[21.48,4.9],[21.51,9.8],[21.53,7.6],[21.56,8.7],[21.59,10.3],[21.62,7.1],[21.65,15.9],[21.67,19.5],[21.7,13.4],[21.72,15.8],[21.74,8.7],[21.78,9.0],[21.81,8.2],[21.84,10.3],[21.88,11.1],[21.92,8.4],[21.95,6.6],[21.98,11.3],[22.01,7.1],[22.05,5.5],[22.09,7.9],[22.13,5.5],[22.17,9.5],[22.2,5.3],[22.24,13.4],[22.27,5.8],[22.33,9.8],[22.37,6.9],[22.4,5.8],[22.45,8.2],[22.48,5.3],[22.52,9.1],[22.56,5.0],[22.61,6.1],[22.67,5.0],[22.73,4.0],[22.78,4.5],[22.84,3.7],[22.89,5.0],[22.95,3.4],[23.0,2.9],[23.06,4.0],[23.11,2.4],[23.17,2.9],[23.22,2.1],[23.28,1.8],[23.36,1.6],[23.45,0.7],[23.53,1.1],[23.61,0.5],[23.7,0.3],[23.78,0.5],[23.86,0.3],[23.92,0.5]
];
const odZCross = [[21.62,10.8],[21.63,7.7],[22.31,7.1],[22.29,4.7],[22.39,4.5],[22.53,3.2],[22.61,7.9],[22.67,6.5],[22.75,8.7],[22.67,11.6],[22.92,12.7],[22.94,11.9],[23.18,12.0],[22.97,8.2],[23.2,7.9],[23.22,6.1],[22.61,5.3],[22.75,5.0],[22.86,4.0],[22.95,5.0],[23.06,4.5],[22.83,2.9],[22.95,2.4],[23.06,1.8],[23.14,2.6],[23.28,2.4],[23.33,2.9],[23.42,1.8],[23.5,4.0],[23.5,1.3],[23.58,0.8],[23.72,0.5],[23.84,1.6]];
const odD98Cross = [
  [0.05,4.5],[0.1,5],[0.15,4],[0.2,3],[0.25,2],[0.3,1.5],[0.35,2.5],[0.4,3],[0.45,2],[0.5,1.5],[0.6,3.5],[0.65,5],[0.7,6],[0.75,5],[0.8,6.5],[0.85,7],[0.9,5],[0.95,4],[1.0,7.5],[1.05,8],[1.1,6.5],[1.15,7.5],[1.2,7.8],[1.25,6.5],[1.3,5],[1.35,4.5],[1.4,4],[1.45,5.5],[1.5,4.5],[1.55,3.5],[1.6,3],[1.7,2.5],[1.75,4],[1.8,5],[1.9,3],[2.0,2.5],[2.05,3.5],[2.1,4.5],[2.2,3.5],[2.3,4.5],[2.35,5.5],[2.4,3],[2.5,2],[2.6,1.5],[2.7,1],[2.8,2],[2.9,1.5],[3.0,3],[3.1,2],[3.2,1.5],[3.3,2.5],[3.4,3],[3.5,2],[3.55,4.5],[3.6,3.5],
  [19.4,24.0],[19.45,21.9],[19.46,22.9],[19.49,20.3],[19.51,19.3],[19.57,19.0],[19.6,18.2],[19.62,17.9],[19.67,18.7],[19.71,19.2],[19.76,19.8],[19.82,21.1],[19.84,22.4],[19.87,24.0],[19.91,25.0],[19.96,27.1],[19.98,28.2],[20.02,30.3],[20.07,32.4],[20.12,34.0],[20.18,32.2],[20.45,22.7]
];
const odD98Dots = [
  [3.7,0],[3.85,0],[4.1,0],[4.28,0],[4.6,0],[4.8,0],[5.1,0.3],[5.5,0.3],[8.05,0],[8.15,0],[8.4,0.5],[8.5,1],[8.6,0.8],[8.7,1.2],[8.8,0.3],
  [20.37,27.8],[20.4,26.1],[20.45,21.6],[20.57,19.2],[20.62,19.8],[20.66,22.4],[20.7,25.6],[20.73,28.2],[20.78,33.1],[20.83,32.6],[20.85,30.7],[20.9,29.5],[20.95,28.7],[20.98,27.7],[21.0,31.1],[21.04,33.2],[21.07,31.9],[21.11,33.4],[21.13,30.4],[21.07,26.9],[21.15,23.2],[21.2,17.1],[21.23,15.0],[21.26,12.9],[21.31,9.2],[21.37,7.4],[21.45,6.1],[21.53,8.7],[21.62,10.3],[21.68,12.1],[21.73,7.9],[21.84,7.1],[21.95,7.6],[22.06,6.2],[22.17,4.7],[22.28,8.7],[22.39,5.8],[22.48,7.1],[22.61,10.3],[22.78,10.0],[22.92,11.6],[23.06,11.6],[23.17,10.3],[23.28,8.2],[23.39,5.5],[23.47,7.9],[23.5,6.1],[23.61,2.9],[23.72,1.8],[23.82,4.2],[23.84,5.8],[23.89,1.3]
];
const odZBand = [
  [0.0,0,6],[0.05,0,24],[0.1,0,8],[0.15,0,12],[0.2,0,7],[0.25,0,10],[0.3,0,15],[0.35,0,9],[0.4,0,13],[0.45,0,6],[0.5,0,8],[0.6,0,6],[0.7,0,8],[0.8,0,10],[0.9,0,9],[1.0,0,11],[1.05,0,12],[1.1,0,10],[1.2,0,11],[1.3,0,10],[1.4,0,13],[1.5,0,12],[1.6,0,10],[1.7,0,17],[1.8,0,10],[1.9,0,11],[2.0,0,14],[2.1,0,10],[2.2,0,11],[2.3,0,11],[2.4,0,12],[2.5,0,11],[2.6,0,12],[2.7,0,10],[2.8,0,11],[2.9,0,10],[3.0,0,12],[3.1,0,9],[3.2,0,11],[3.3,0,12],[3.4,0,14],[3.45,0,35],[3.5,0,75],[3.55,0,34],[3.6,0,14],[3.65,0,9],[3.7,0,1],
  null,[8.1,0,8],[8.2,0,6],[8.3,0,12],[8.4,0,10],[8.45,0,16],[8.5,0,11],[8.55,0,21],[8.6,0,14],[8.65,0,17],[8.7,0,13],[8.75,0,28],[8.8,0,12],[8.85,0,9],
  null,[17.65,40,75],[17.7,35,75],[17.75,30,55],[17.8,28,50],[17.9,26,48],[18.0,25,48],[18.1,16,55],[18.15,22,52],[18.2,24,45],[18.3,15,40],[18.4,11,38],[18.5,16,36],[18.6,13,33],[18.7,12,33],[18.75,18,48],[18.8,15,40],[18.9,10,30],[19.0,12,30],[19.1,14,33],[19.2,15,34],[19.3,20,38],[19.4,21,40],[19.5,20,36],[19.6,19,35],[19.7,20,35],[19.8,18,38],[19.9,19,34],[20.0,20,40],[20.1,25,45],[20.15,28,50],[20.2,20,38],[20.3,14,33],[20.4,15,32],[20.5,13,28],[20.6,12,28],[20.7,15,36],[20.8,17,35],[20.9,15,34],[21.0,17,33],[21.1,13,30],[21.2,8,25],[21.3,3,20],[21.4,3,18],[21.5,1,48],[21.6,2,22],[21.7,3,30],[21.8,2,75],[21.9,2,25],[22.0,2,75],[22.05,1,20],[22.1,1,75],[22.2,1,25],[22.3,1,75],[22.4,1,40],[22.5,0,35],[22.6,0,75],[22.7,0,25],[22.8,0,75],[22.9,0,20],[23.0,0,18],[23.1,0,75],[23.2,0,15],[23.3,0,12],[23.4,0,10],[23.5,0,8],[23.6,0,6],[23.7,0,5],[23.8,0,4],[23.95,0,4]
];
const odZSpikes = [[5.6,0,8],[6.0,0,9],[6.25,0,22],[9.2,0,13],[9.3,0,11],[9.4,0,25],[9.5,0,4],[9.6,0,5]];
const odD98Band = [
  [0.0,0,7],[0.5,0,5],[1.0,0,10],[1.2,0,10],[1.5,0,7],[2.0,0,6],[2.3,0,7],[2.5,0,5],[3.0,0,5],[3.5,0,6],[3.7,0,2],
  null,[19.35,20,27],[19.45,16,26],[19.55,13,23],[19.65,13,22],[19.75,15,24],[19.85,18,27],[19.95,22,31],[20.05,27,38],[20.15,27,42],[20.25,20,33],[20.35,18,30],[20.45,16,27],[20.55,15,24],[20.65,18,30],[20.75,22,38],[20.85,24,36],[20.95,24,34],[21.05,24,37],[21.15,16,30],[21.25,8,20],[21.35,4,12],[21.5,4,15],[21.7,5,15],[21.9,4,12],[22.1,3,10],[22.3,3,12],[22.5,4,13],[22.7,5,14],[22.9,6,15],[23.1,5,14],[23.3,3,11],[23.5,2,10],[23.7,0,6],[23.95,0,8]
];

// ---- text
const hourTicks = [0, 5, 10, 15, 20];
const xTitle = 'UTC hours on 20241124';
const yTitles = [
  '<span style="color:#0072bd">DQ Flag</span>\u00a0\u00a0<span style="color:#ff8c00">D98 &amp;</span>\u00a0\u00a0<span style="color:#0000ff">Z-LWP</span>',
  'log10 Liquid Water Path, log10(g/m<sup>2</sup>)',
  'Effective Radius,<i>\u03bc</i>m',
  'Droplet Concentration,\u00a0\u00a0#/cc',
  'Optical Depth'
];
const lwpLegend = ['MWR Phy Iter', 'D98 LWP', 'Z-LWP LWP'];
const markerLegends = [['D98 Re', 'Z-LWP'], ['D98 Nd', 'Z-LWP Nd'], ['D98 OD', 'Z-LWP Nd']];

// ---- styling
const ORANGE = '#ff8c00', BLUE = '#0000ff', AXBLUE = '#0072bd', DARK = '#262626', MWR = '#a52a2a';
const FONT = 'DejaVu Sans';
const W = 3825, H = 6000;
const plotLeft = 374, plotRight = 3004;
const panelTops = [295, 1420, 2546, 3671, 4795];
const panelBottoms = [1203, 2328, 3453, 4578, 5703];
const yRanges = [[-0.5, 11.5], [-0.103, 2.726], [-0.1, 25], [0, 500], [0, 75]];
const yTicks = [[0, 2, 4, 6, 8, 10], [0, 0.5, 1, 1.5, 2, 2.5], [0, 5, 10, 15, 20, 25], [0, 100, 200, 300, 400, 500], [0, 10, 20, 30, 40, 50, 60, 70]];
const yTitleX = [242, 235, 239, 218, 242];

const axId = i => (i === 0 ? '' : String(i + 1));

function splitXY(pts, off) {
  off = off || 0;
  return { x: pts.map(p => (p ? p[0] : null)), y: pts.map(p => (p ? p[1] + off : null)) };
}

function bandTrace(rows, i, color) {
  const x = [], y = [];
  let seg = [];
  const flush = () => {
    if (seg.length) {
      seg.forEach(r => { x.push(r[0]); y.push(r[2]); });
      seg.slice().reverse().forEach(r => { x.push(r[0]); y.push(r[1]); });
      x.push(null); y.push(null);
    }
    seg = [];
  };
  rows.forEach(r => (r ? seg.push(r) : flush()));
  flush();
  return { x, y, xaxis: 'x' + axId(i), yaxis: 'y' + axId(i), mode: 'lines', fill: 'toself',
    fillcolor: color, line: { width: 0, color: color }, hoverinfo: 'skip', showlegend: false };
}

function spikeTrace(rows, i, color, width) {
  const x = [], y = [];
  rows.forEach(r => { x.push(r[0], r[0], null); y.push(r[1], r[2], null); });
  return { x, y, xaxis: 'x' + axId(i), yaxis: 'y' + axId(i), mode: 'lines',
    line: { color: color, width: width || 5 }, hoverinfo: 'skip', showlegend: false };
}

function markTrace(pts, i, color, symbol, size) {
  const d = splitXY(pts);
  const lw = symbol === 'x' ? 2.5 : 0;
  return { x: d.x, y: d.y, xaxis: 'x' + axId(i), yaxis: 'y' + axId(i), mode: 'markers',
    marker: { color: color, symbol: symbol, size: size, line: { width: lw, color: color } }, hoverinfo: 'skip', showlegend: false };
}

function lineTrace(pts, i, color, width, dash) {
  const d = splitXY(pts);
  return { x: d.x, y: d.y, xaxis: 'x' + axId(i), yaxis: 'y' + axId(i), mode: 'lines',
    line: { color: color, width: width, dash: dash || 'solid' }, connectgaps: false, hoverinfo: 'skip', showlegend: false };
}

function flagTraces(runs, color, off) {
  const lx = [], ly = [], mx = [], my = [];
  runs.forEach(r => {
    if (r[2] > r[1]) { lx.push(r[1], r[2], null); ly.push(r[0] + off, r[0] + off, null); }
    mx.push(r[1], r[2]); my.push(r[0] + off, r[0] + off);
  });
  return [
    { x: lx, y: ly, xaxis: 'x', yaxis: 'y', mode: 'lines', line: { color: color, width: 10 }, hoverinfo: 'skip', showlegend: false },
    { x: mx, y: my, xaxis: 'x', yaxis: 'y', mode: 'markers', marker: { color: color, size: 10 }, hoverinfo: 'skip', showlegend: false }
  ];
}

const OBAND = 'rgba(255,140,0,0.2)', BBAND = 'rgba(0,0,255,0.2)', MBAND = 'rgba(128,60,128,0.5)';
const DOT = 9, CROSS = 22;

const traces = [];
// panel 1
traces.push(...flagTraces(d98FlagRuns, ORANGE, 0));
traces.push(...flagTraces(zFlagRuns, BLUE, zFlagOffset));
// panel 2
traces.push(lineTrace(lwpD98, 1, ORANGE, 11));
traces.push(bandTrace(lwpMwrBand, 1, MBAND));
traces.push(spikeTrace(lwpMwrSpikes, 1, MBAND, 3));
traces.push(lineTrace(lwpZ, 1, BLUE, 9, '90px,22px'));
// panels 3-5
[
  [reD98Band, reD98Spikes, reD98Dots, reD98Cross, reZBand, reZSpikes, reZDots, reZCross],
  [ndD98Band, [], ndD98Dots, ndD98Cross, ndZBand, ndZSpikes, ndZDots, ndZCross],
  [odD98Band, [], odD98Dots, odD98Cross, odZBand, odZSpikes, odZDots, odZCross]
].forEach((s, k) => {
  const i = k + 2;
  traces.push(bandTrace(s[0], i, OBAND));
  if (s[1].length) traces.push(spikeTrace(s[1], i, OBAND, 4));
  traces.push(markTrace(s[2], i, ORANGE, 'circle', DOT));
  traces.push(markTrace(s[3], i, ORANGE, 'x', CROSS));
  traces.push(bandTrace(s[4], i, BBAND));
  traces.push(spikeTrace(s[5], i, BBAND, 4));
  traces.push(markTrace(s[6], i, BLUE, 'circle', DOT));
  traces.push(markTrace(s[7], i, BLUE, 'x', CROSS));
});

// legend key markers live on a page-sized hidden axis (pixel coordinates)
const legendKeyPos = [[1932, 2611], [1932, 2670], [1908, 3737], [1908, 3795], [594, 4862], [594, 4919]];
traces.push({
  x: legendKeyPos.map(p => p[0]), y: legendKeyPos.map(p => p[1]), xaxis: 'x6', yaxis: 'y6', mode: 'markers',
  marker: { symbol: 'x', size: CROSS, color: [ORANGE, BLUE, ORANGE, BLUE, ORANGE, BLUE], line: { width: 2.5, color: [ORANGE, BLUE, ORANGE, BLUE, ORANGE, BLUE] } },
  hoverinfo: 'skip', showlegend: false
});

const layout = {
  width: W, height: H, margin: { l: 0, r: 0, t: 0, b: 0 },
  paper_bgcolor: '#ffffff', plot_bgcolor: 'rgba(0,0,0,0)',
  showlegend: false, font: { family: FONT, color: DARK },
  annotations: [], shapes: [],
  xaxis6: { domain: [0, 1], range: [0, W], visible: false, fixedrange: true, anchor: 'y6' },
  yaxis6: { domain: [0, 1], range: [H, 0], visible: false, fixedrange: true, anchor: 'x6' }
};

for (let i = 0; i < 5; i++) {
  const id = axId(i);
  layout['xaxis' + id] = {
    domain: [plotLeft / W, plotRight / W], range: [0, 24], anchor: 'y' + id,
    tickmode: 'array', tickvals: hourTicks, ticktext: hourTicks.map(String),
    ticks: 'inside', ticklen: 28, tickwidth: 3, tickcolor: DARK, ticklabelstandoff: 18,
    showline: true, linecolor: DARK, linewidth: 3, showgrid: false, zeroline: false,
    tickfont: { family: FONT, size: 41, color: DARK }
  };
  layout['yaxis' + id] = {
    domain: [1 - panelBottoms[i] / H, 1 - panelTops[i] / H], range: yRanges[i], anchor: 'x' + id,
    tickmode: 'array', tickvals: yTicks[i], ticktext: yTicks[i].map(String),
    ticks: 'inside', ticklen: 28, tickwidth: 3, tickcolor: AXBLUE, ticklabelstandoff: 19,
    showline: true, mirror: true, linecolor: AXBLUE, linewidth: 3, showgrid: false, zeroline: false,
    tickfont: { family: FONT, size: 41, color: AXBLUE }
  };
  layout.annotations.push({
    xref: 'paper', yref: 'paper', x: (plotLeft + plotRight) / 2 / W, y: 1 - (panelBottoms[i] + 118) / H,
    xanchor: 'center', yanchor: 'middle', showarrow: false, text: xTitle,
    font: { family: FONT, size: 47, color: DARK }
  });
  layout.annotations.push({
    xref: 'paper', yref: 'paper', x: yTitleX[i] / W, y: 1 - (panelTops[i] + panelBottoms[i]) / 2 / H,
    xanchor: 'center', yanchor: 'middle', showarrow: false, textangle: -90, text: yTitles[i],
    font: { family: FONT, size: 47, color: AXBLUE }
  });
}

// panel 2 legend (lines drawn as shapes)
const lwpKeyRows = [1519, 1578, 1636];
const lwpKeyStyle = [[MWR, 'solid'], [ORANGE, 'solid'], [BLUE, '78px,47px']];
lwpKeyRows.forEach((yy, k) => {
  layout.shapes.push({ type: 'line', xref: 'paper', yref: 'paper', x0: 1431 / W, x1: 1666 / W, y0: 1 - yy / H, y1: 1 - yy / H,
    line: { color: lwpKeyStyle[k][0], width: 7, dash: lwpKeyStyle[k][1] } });
  layout.annotations.push({ xref: 'paper', yref: 'paper', x: 1690 / W, y: 1 - yy / H, xanchor: 'left', yanchor: 'middle',
    showarrow: false, text: lwpLegend[k], font: { family: FONT, size: 39, color: '#000000' } });
});
// marker legends for panels 3-5
const markerLegendTextX = [2076, 2051, 735];
markerLegends.forEach((pair, k) => {
  pair.forEach((t, j) => {
    const yy = legendKeyPos[k * 2 + j][1];
    layout.annotations.push({ xref: 'paper', yref: 'paper', x: markerLegendTextX[k] / W, y: 1 - yy / H, xanchor: 'left', yanchor: 'middle',
      showarrow: false, text: t, font: { family: FONT, size: 39, color: '#000000' } });
  });
});

Plotly.newPlot('chart', traces, layout, { displayModeBar: false, staticPlot: true });
</script>
</body>
</html>
